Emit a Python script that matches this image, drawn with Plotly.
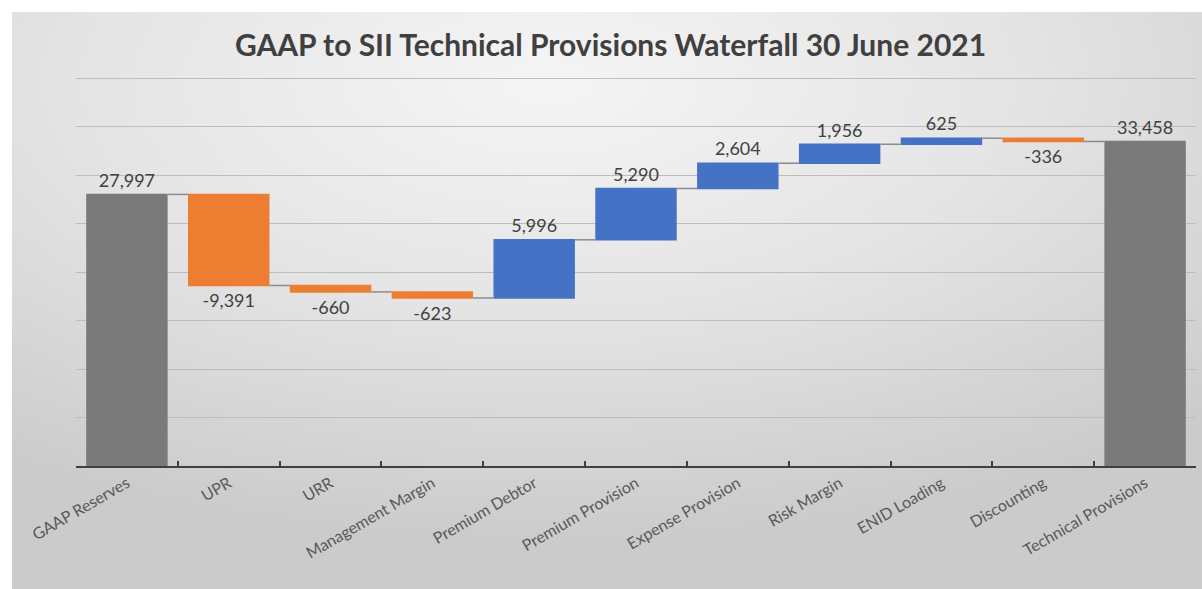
import base64
import plotly.graph_objects as go

categories = ["GAAP Reserves", "UPR", "URR", "Management Margin", "Premium Debtor",
              "Premium Provision", "Expense Provision", "Risk Margin", "ENID Loading",
              "Discounting", "Technical Provisions"]
values = [27997, -9391, -660, -623, 5996, 5290, 2604, 1956, 625, -336]
measures = ["absolute"] + ["relative"] * 9 + ["total"]
title_text = "GAAP to SII Technical Provisions Waterfall 30 June 2021"

total = sum(values)
y_vals = values + [0]
labels = [f"{v:,}" for v in values] + [f"{total:,}"]

W, H = 1202, 589
L, R, T, B = 76, 6, 74, 123
pw, ph = W - L - R, H - T - B
y_top = 40000 * ph / (ph - 4)

svg = """<svg xmlns='http://www.w3.org/2000/svg' width='1190' height='577' viewBox='0 0 1190 577' preserveAspectRatio='none'>
<defs><radialGradient id='g' cx='0.45' cy='0.12' r='0.8'>
<stop offset='0' stop-color='#f5f5f5'/><stop offset='0.5' stop-color='#e4e4e4'/><stop offset='1' stop-color='#cbcbcb'/>
</radialGradient></defs>
<rect x='0' y='0' width='1190' height='577' fill='url(#g)'/></svg>"""
src = "data:image/svg+xml;base64," + base64.b64encode(svg.encode()).decode()

fig = go.Figure(go.Waterfall(
    x=categories,
    y=y_vals,
    measure=measures,
    text=labels,
    textposition="outside",
    textfont=dict(family="Lato", size=18, color="#404040"),
    increasing=dict(marker=dict(color="#4472C4")),
    decreasing=dict(marker=dict(color="#ED7D31")),
    totals=dict(marker=dict(color="#7A7A7A")),
    connector=dict(mode="between", line=dict(color="#8c8c8c", width=1.5)),
    cliponaxis=False,
    hoverinfo="x+y",
))

fig.add_layout_image(dict(
    source=src, xref="paper", yref="paper",
    x=(12 - L) / pw, y=1 + (T - 12) / ph,
    sizex=(W - 12) / pw, sizey=(H - 12) / ph,
    xanchor="left", yanchor="top", sizing="stretch", layer="below",
))

fig.update_layout(
    width=W, height=H,
    margin=dict(l=L, r=R, t=T, b=B),
    paper_bgcolor="white",
    plot_bgcolor="rgba(0,0,0,0)",
    showlegend=False,
    bargap=0.21,
    title=dict(text=title_text, x=(228 + 993) / 2 / W, xanchor="center", y=1 - 45 / H, yanchor="middle",
               font=dict(family="Lato", size=30, color="#404040", weight="bold")),
    xaxis=dict(
        tickangle=-30,
        tickfont=dict(family="Lato", size=16, color="#595959"),
        showline=True, linecolor="#404040", linewidth=2,
        ticks="inside", ticklen=5, tickwidth=2, tickcolor="#404040",
        tickson="boundaries", showgrid=False,
    ),
    yaxis=dict(
        range=[0, y_top], dtick=5000, showticklabels=False,
        showgrid=True, gridcolor="#bdbdbd", gridwidth=1,
        zeroline=False, showline=False,
    ),
)

fig.write_html("out.html", config={"displayModeBar": False},
               post_script="document.body.style.margin='0';")
